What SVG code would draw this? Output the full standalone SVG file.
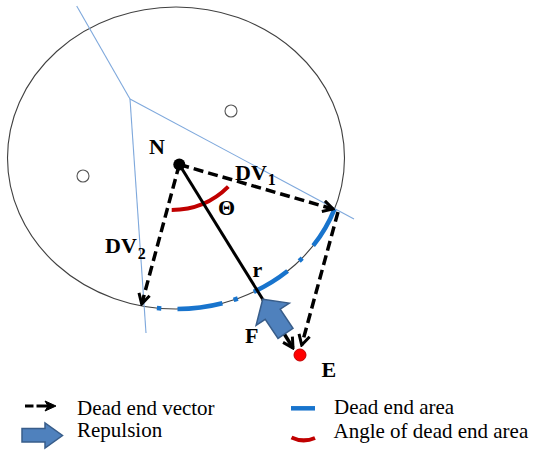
<svg xmlns="http://www.w3.org/2000/svg" width="541" height="450" viewBox="0 0 541 450">
<defs>
<style>
.bnd{fill:none;stroke:#7ea8dc;stroke-width:1.1}
.dv{fill:none;stroke:#000;stroke-width:3.5;stroke-dasharray:10 5;marker-end:url(#chev)}
.area{fill:none;stroke:#1874cd;stroke-width:4.5}
.lbl{font-family:"Liberation Serif","Times New Roman",serif;font-weight:bold;font-size:22px;fill:#000}
.sub{font-size:16px}
.leg{font-family:"Liberation Serif","Times New Roman",serif;font-size:21px;fill:#000}
.rep{fill:#4f81bd;stroke:#385d8a;stroke-width:1.5}
</style>
<marker id="chev" viewBox="0 0 14 14" refX="12" refY="7" markerWidth="14" markerHeight="14" markerUnits="userSpaceOnUse" orient="auto">
<path d="M2,1.5 L12,7 L2,12.5" fill="none" stroke="#000" stroke-width="3" stroke-dasharray="none"/>
</marker>
</defs>
<rect width="541" height="450" fill="#fff"/>

<g id="range">
<ellipse cx="176" cy="158" rx="168.5" ry="151" fill="none" stroke="#404040" stroke-width="1.1"/>
</g>
<g id="boundaries">
<line class="bnd" x1="76.7" y1="6" x2="130" y2="99"/>
<line class="bnd" x1="130" y1="99" x2="354" y2="219"/>
<line class="bnd" x1="130" y1="99" x2="146" y2="333"/>
</g>
<g id="neighbors">
<circle cx="231" cy="111" r="6" fill="#fff" stroke="#555" stroke-width="1.1"/>
<circle cx="83" cy="176" r="6" fill="#fff" stroke="#555" stroke-width="1.1"/>
</g>
<g id="dead-end-area">
<path class="area" d="M334.5,209.1 A168.5,151 0 0 1 313.2,245.7"/>
<path class="area" d="M302.2,258.1 A168.5,151 0 0 1 299.2,261"/>
<path class="area" d="M287.6,271.1 A168.5,151 0 0 1 253.8,291.9"/>
<path class="area" d="M237.8,298.5 A168.5,151 0 0 1 233.6,299.9"/>
<path class="area" d="M222.4,303.2 A168.5,151 0 0 1 177.5,309"/>
<path class="area" d="M161.3,308.4 A168.5,151 0 0 1 156.9,308"/>
</g>
<g id="angle">
<path d="M171.7,210 Q205,210 228.3,186.7" fill="none" stroke="#c00000" stroke-width="4"/>
</g>
<g id="connectors">
<line x1="179.3" y1="164.5" x2="262.7" y2="299.3" stroke="#000" stroke-width="3"/>
<line class="dv" x1="179.3" y1="164.5" x2="333" y2="209"/>
<line class="dv" x1="179.3" y1="164.5" x2="141.7" y2="304"/>
<line class="dv" x1="338" y1="212" x2="301.7" y2="345"/>
<line x1="262.7" y1="299.3" x2="293" y2="348" stroke="#000" stroke-width="3.5" marker-end="url(#chev)"/>
</g>
<g id="repulsion">
<polygon class="rep" transform="translate(262.7,299.3) rotate(-33.8)" points="0,0 20,18 9,18 9,41 -9,41 -9,18 -20,18"/>
</g>
<g id="node-N">
<circle cx="179.3" cy="164.5" r="6" fill="#000"/>
<text class="lbl" x="149" y="154">N</text>
</g>
<g id="node-E">
<circle cx="300" cy="355" r="6" fill="#ff0000" stroke="#c00000" stroke-width="1"/>
<text class="lbl" x="321.5" y="376.5">E</text>
</g>
<g id="labels">
<text class="lbl" x="235" y="180">DV<tspan class="sub" dx="1" dy="5">1</tspan></text>
<text class="lbl" x="105" y="253" font-size="23">DV<tspan class="sub" dx="1" dy="6">2</tspan></text>
<text class="lbl" x="218" y="215" font-size="21">Θ</text>
<text class="lbl" x="252.5" y="277">r</text>
<text class="lbl" x="245" y="343">F</text>
</g>
<g id="legend">
<line x1="25" y1="406" x2="33.5" y2="406" stroke="#000" stroke-width="3"/>
<line x1="36.5" y1="406" x2="48" y2="406" stroke="#000" stroke-width="3"/>
<polygon points="45,401 56,406 45,411 48,406" fill="#000" stroke="#000" stroke-width="1"/>
<text class="leg" x="77" y="415">Dead end vector</text>
<polygon class="rep" points="22,428.5 45,428.5 45,423 62.5,435.5 45,448 45,442 22,442"/>
<text class="leg" x="77" y="437">Repulsion</text>
<line x1="291" y1="408.3" x2="315" y2="408.3" stroke="#1874cd" stroke-width="4.5"/>
<text class="leg" x="334" y="414">Dead end area</text>
<path d="M291.5,437.5 Q303,443 315,438" fill="none" stroke="#c00000" stroke-width="4"/>
<text class="leg" x="333.5" y="437.5">Angle of dead end area</text>
</g>
</svg>
